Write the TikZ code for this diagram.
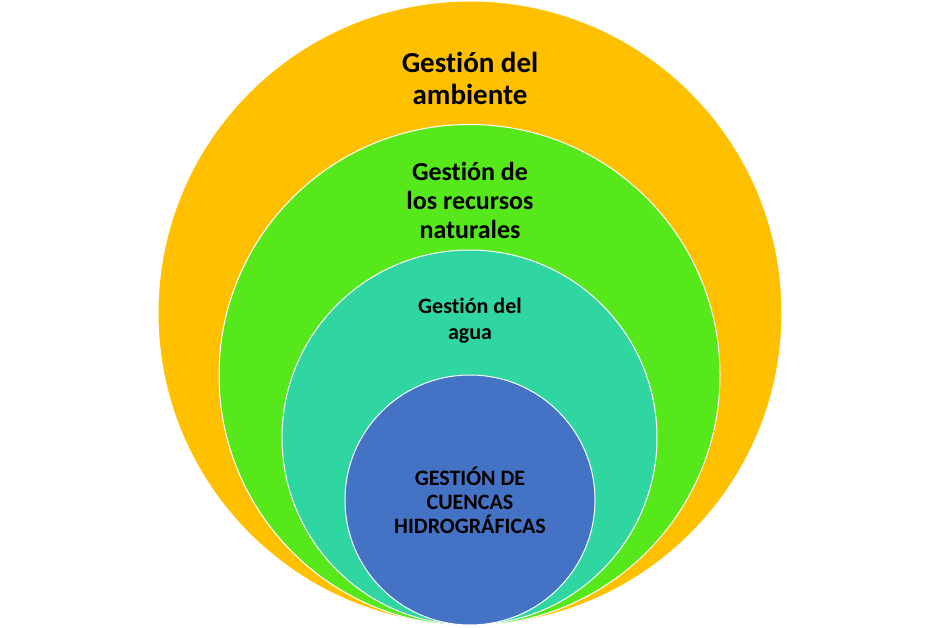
\documentclass[tikz,border=0pt]{standalone}
\usepackage{fontspec}
\setmainfont{Carlito}[Ligatures=NoCommon]
\usetikzlibrary{positioning}

\definecolor{ambiente}{HTML}{FFC000}
\definecolor{recursos}{HTML}{56E81B}
\definecolor{agua}{HTML}{30D6A2}
\definecolor{cuencas}{HTML}{4472C4}

\tikzset{
  ring/.style={circle, draw=white, line width=1pt, inner sep=0pt},
  label/.style={align=center, font=\bfseries, text=black}
}

\begin{document}
\begin{tikzpicture}[x=1pt, y=-1pt]
            \useasboundingbox (0,0) rectangle (940,628);
            % nested circles, all touching at the bottom
            \node[ring, fill=ambiente, minimum size=624pt] (outer) at (470,313) {};
            \node[ring, fill=recursos, minimum size=501pt] (green) at (469.5,375) {};
            \node[ring, fill=agua, minimum size=375pt] (teal) at (469.5,437.5) {};
            \node[ring, fill=cuencas, minimum size=250pt] (blue) at (470,500) {};
            % texts
            \node[label, font=\fontsize{29}{32}\selectfont\bfseries] (tambiente) at (470,78) {Gestión del\\ambiente};
            \node[label, font=\fontsize{26}{29}\selectfont\bfseries] (trecursos) at (470,200) {Gestión de\\los recursos\\naturales};
            \node[label, font=\fontsize{22}{26}\selectfont\bfseries] (tagua) at (470,321) {Gestión del\\agua};
            \node[label, font=\fontsize{22}{24}\selectfont\bfseries] (tcuencas) at (470,500) {GESTIÓN DE\\CUENCAS\\HIDROGRÁFICAS};
        \end{tikzpicture}
\end{document}
